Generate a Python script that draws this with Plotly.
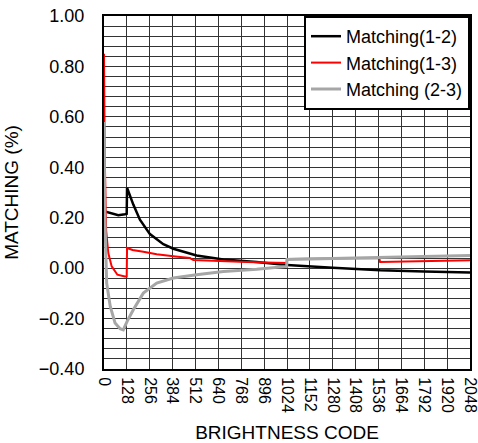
import plotly.graph_objects as go

# ## Values
x_12 = [0, 24, 80, 117, 127, 129, 164, 201, 257, 332, 388, 518, 668, 854, 1024, 1280, 1545, 1792, 2048]
y_12 = [0.226, 0.222, 0.210, 0.214, 0.216, 0.319, 0.252, 0.192, 0.135, 0.095, 0.077, 0.050, 0.034, 0.024, 0.012, 0.002, -0.008, -0.013, -0.017]

x_13 = [0, 4, 12, 24, 43, 75, 117, 127, 129, 160, 220, 295, 400, 481, 500, 620, 761, 900, 1022, 1024, 1280, 1540, 1545, 1792, 2048]
y_13 = [0.85, 0.45, 0.15, 0.06, 0.007, -0.026, -0.033, -0.033, 0.080, 0.072, 0.065, 0.055, 0.046, 0.040, 0.032, 0.028, 0.025, 0.022, 0.020, 0.036, 0.038, 0.040, 0.024, 0.028, 0.031]

x_23 = [0, 5, 15, 35, 62, 90, 108, 130, 164, 220, 295, 388, 518, 668, 854, 1022, 1024, 1280, 1536, 1792, 2048]
y_23 = [0.58, 0.20, -0.06, -0.152, -0.218, -0.24, -0.245, -0.21, -0.165, -0.099, -0.059, -0.039, -0.026, -0.013, -0.004, 0.007, 0.034, 0.038, 0.044, 0.047, 0.050]

x_ticks = list(range(0, 2049, 128))

fig = go.Figure()
fig.add_trace(go.Scatter(x=x_12, y=y_12, mode="lines", name="Matching(1-2)",
                         line=dict(color="black", width=2.5)))
fig.add_trace(go.Scatter(x=x_13, y=y_13, mode="lines", name="Matching(1-3)",
                         line=dict(color="#ff0000", width=2)))
fig.add_trace(go.Scatter(x=x_23, y=y_23, mode="lines", name="Matching (2-3)",
                         line=dict(color="#a6a6a6", width=3)))

fig.update_layout(
    width=478, height=443,
    margin=dict(l=104, r=8, t=16, b=74),
    paper_bgcolor="white", plot_bgcolor="white",
    font=dict(family="Liberation Sans, Arial", size=16, color="black"),
    legend=dict(x=1, y=1, xanchor="right", yanchor="top",
                bgcolor="white", bordercolor="black", borderwidth=2,
                font=dict(size=18), tracegroupgap=0, entrywidth=155),
)
fig.update_xaxes(
    range=[0, 2048], tickvals=x_ticks, tickangle=90,
    tickfont=dict(size=16), ticklabeloverflow="allow",
    showgrid=True, gridcolor="#333333", gridwidth=1,
    showline=True, mirror=True, linecolor="black", linewidth=2,
    zeroline=False, ticks="outside", ticklen=3, tickcolor="rgba(0,0,0,0)",
    automargin=False,
    title=dict(text="BRIGHTNESS CODE", font=dict(size=19)),
)
fig.update_yaxes(
    range=[-0.4, 1.0], dtick=0.2, tickformat=".2f",
    tickfont=dict(size=18), ticklabeloverflow="allow",
    showgrid=True, gridcolor="#333333", gridwidth=1,
    minor=dict(dtick=0.04, showgrid=True, gridcolor="#333333", gridwidth=1),
    showline=True, mirror=True, linecolor="black", linewidth=2,
    zeroline=False, ticks="outside", ticklen=14, tickcolor="rgba(0,0,0,0)",
    automargin=False,
    title=dict(text="MATCHING (%)", font=dict(size=19)),
)

fig.write_html("out.html", config={"displayModeBar": False},
               post_script="document.body.style.margin='0';")
